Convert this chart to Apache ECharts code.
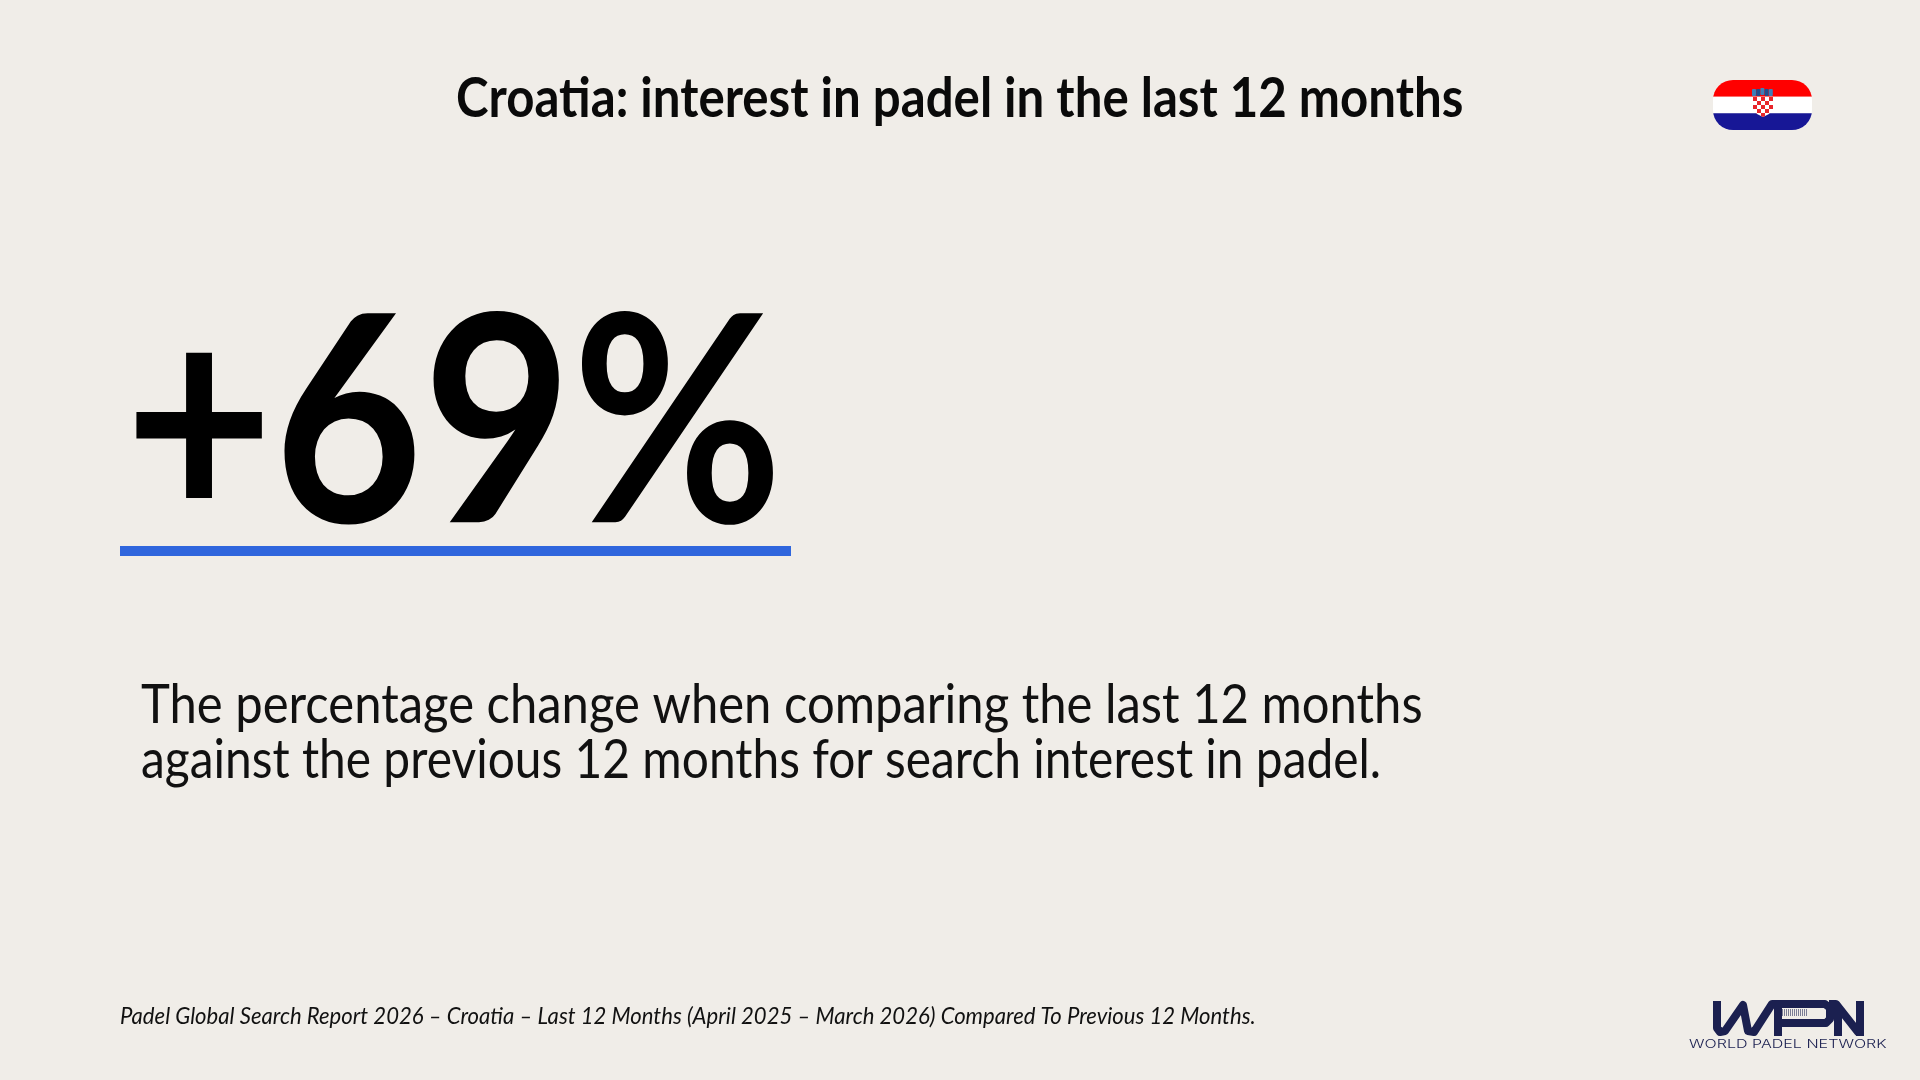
<!DOCTYPE html>
<html>
<head>
<meta charset="utf-8">
<title>Croatia padel interest</title>
<script src="https://cdn.jsdelivr.net/npm/echarts@6/dist/echarts.min.js"></script>
<style>
html,body{margin:0;padding:0;background:#f0ede8;}
#main{width:1920px;height:1080px;}
</style>
</head>
<body>
<div id="main"></div>
<script>
var titleText = 'Croatia: interest in padel in the last 12 months';
var changeValue = ['+69%'];
var descLines = [
	'The percentage change when comparing the last 12 months',
	'against the previous 12 months for search interest in padel.'
];
var sourceText = 'Padel Global Search Report 2026 \u2013 Croatia \u2013 Last 12 Months (April 2025 \u2013 March 2026) Compared To Previous 12 Months.';
var logoText = 'WORLD PADEL NETWORK';

var myChart = echarts.init(document.getElementById('main'));
var els = [];
var navy = '#1b2050';

function addText(str, x, y, size, weight, font, color, sx, italic){
	els.push({
		type: 'text', x: x, y: y, scaleX: sx || 1,
		style: {
			text: str, fill: color, font: (italic ? 'italic ' : '') + weight + ' ' + size + 'px "' + font + '"',
			textAlign: 'left'
		}
	});
}

addText(titleText, 456, 72, 55, 700, 'Lato', '#0a0a0a', 0.895);
addText(changeValue[0], 124.5, 284.5, 289, 700, 'Lato', '#000', 0.89);
els.push({type: 'rect', shape: {x: 120, y: 546, width: 671, height: 10}, style: {fill: '#2f66dd'}});
addText(descLines[0], 141, 679, 54, 400, 'Lato', '#111', 0.907);
addText(descLines[1], 141, 734, 54, 400, 'Lato', '#111', 0.887);
addText(sourceText, 120, 1004, 24, 400, 'Lato', '#111', 0.921, true);

//flag
var flagClip = {type: 'rect', shape: {x: 1713, y: 80, width: 99, height: 50, r: 20}};
els.push({type: 'rect', shape: {x: 1713, y: 80, width: 99, height: 16.7}, style: {fill: '#ff0000'}, clipPath: flagClip});
els.push({type: 'rect', shape: {x: 1713, y: 96.7, width: 99, height: 16.6}, style: {fill: '#ffffff'}, clipPath: flagClip});
els.push({type: 'rect', shape: {x: 1713, y: 113.3, width: 99, height: 16.7}, style: {fill: '#171796'}, clipPath: flagClip});

//coat of arms
var shieldClip = {type: 'polygon', shape: {points: [[1753, 97], [1773, 97], [1773, 109], [1769, 114], [1763, 117], [1757, 114], [1753, 109]]}};
els.push({type: 'rect', shape: {x: 1753, y: 97, width: 20, height: 20}, style: {fill: '#ffffff'}, clipPath: shieldClip});
for(var r = 0; r < 5; r++){
	for(var c = 0; c < 5; c++){
		if((r + c) % 2 == 0){
			els.push({type: 'rect', shape: {x: 1753 + c * 4, y: 97 + r * 4, width: 4, height: 4}, style: {fill: '#e8252a'}, clipPath: shieldClip});
		}
	}
}
var crownColors = ['#3d7fb8', '#1f4f8f', '#3d7fb8', '#1f4f8f', '#3d7fb8'];
crownColors.forEach(function(col, i){
	els.push({type: 'rect', shape: {x: 1752 + i * 4.2, y: 88 + (i == 2 ? 0 : 1), width: 4, height: 7, r: 1}, style: {fill: col}});
});

//logo
var logoLines = [
	[[1717, 1001], [1717, 1028], [1720, 1032], [1725, 1031], [1743, 1005], [1748, 1031], [1754, 1032], [1772, 1004], [1825, 1004], [1830, 1008], [1830, 1019], [1826, 1023], [1782, 1023]],
	[[1778, 1004], [1778, 1036]],
	[[1838, 1036], [1838, 1008]],
	[[1829, 1004], [1836, 1004], [1858, 1032], [1860, 1032]],
	[[1860, 1036], [1860, 1001]]
];
logoLines.forEach(function(pts){
	els.push({type: 'polyline', shape: {points: pts}, style: {stroke: navy, lineWidth: 8, fill: null, lineJoin: 'round'}});
});
for(var g = 0; g < 15; g++){
	els.push({type: 'rect', shape: {x: 1778 + g * 2, y: 1009, width: 1, height: 7}, style: {fill: navy, opacity: 0.55}});
}
addText(logoText, 1689, 1039, 11, 300, 'Inter', navy, 1.46);

myChart.setOption({
	backgroundColor: '#f0ede8',
	animation: false,
	graphic: {elements: els}
});
</script>
</body>
</html>
